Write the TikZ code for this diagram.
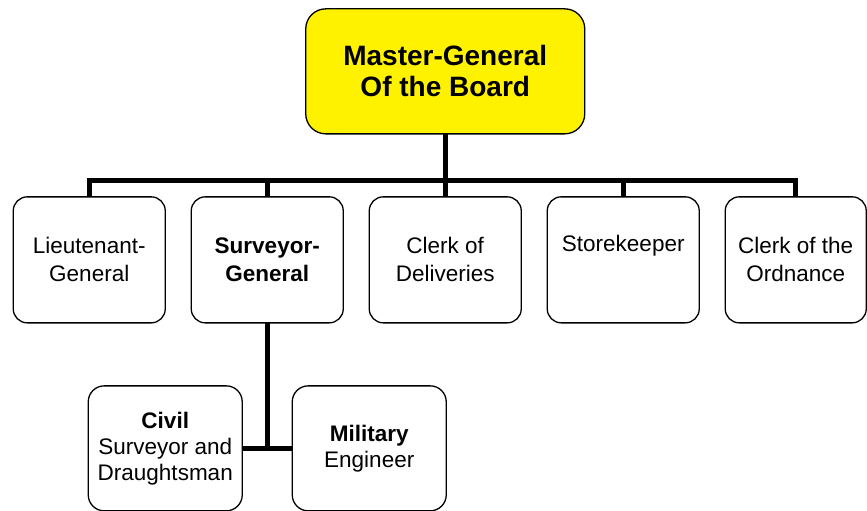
\documentclass[tikz,border=0pt]{standalone}
\usepackage{fontspec}
\setmainfont{Liberation Sans}
\usetikzlibrary{positioning,matrix,calc}

\tikzset{
  post/.style={draw,line width=1.3pt,rounded corners=14pt,minimum width=152pt,minimum height=126pt,inner sep=0pt,outer sep=0pt,align=center,font=\fontsize{22.5}{28}\selectfont},
  head/.style={post,fill=yellow,rounded corners=20pt,minimum width=279pt,minimum height=125pt,font=\bfseries\fontsize{28}{31}\selectfont},
  sub/.style={post,rounded corners=16pt,minimum width=154pt,minimum height=125pt,font=\fontsize{22.5}{26}\selectfont},
  bar/.style={line width=5pt}
}

\begin{document}
\begin{tikzpicture}
\useasboundingbox (0,0) rectangle (867pt,-511pt);
\matrix [ampersand replacement=\&,column sep=24.7pt,inner sep=0pt,anchor=north west] at (12.4pt,-196pt) {
	\node [post] (lg) {Lieutenant-\\General}; \&
	\node [post] (sg) {\textbf{Surveyor-}\\\textbf{General}}; \&
	\node [post] (cd) {Clerk of\\Deliveries}; \&
	\node [post] (sk) {Storekeeper\\\phantom{Storekeeper}}; \&
	\node [post,minimum width=141pt] (co) {Clerk of the\\Ordnance}; \\
};
\node [head,above=63pt of cd] (mg) {Master-General\\Of the Board};
\node [sub,below left=63pt and 25pt of sg.south] (cv) {\textbf{Civil}\\Surveyor and\\Draughtsman};
\node [sub,below right=63pt and 25pt of sg.south] (me) {\textbf{Military}\\Engineer};
\coordinate (bus) at ($(cd.north)+(0,16pt)$);
\draw [bar] (mg.south) -- (mg.south |- bus);
\draw [bar] (lg.north) -- (lg.north |- bus) -- (co.north |- bus) -- (co.north);
\draw [bar] (sg.north) -- (sg.north |- bus);
\draw [bar] (cd.north) -- (cd.north |- bus);
\draw [bar] (sk.north) -- (sk.north |- bus);
\draw [bar] (sg.south) -- (sg.south |- cv.east);
\draw [bar] (cv.east) -- (me.west);
\end{tikzpicture}
\end{document}
